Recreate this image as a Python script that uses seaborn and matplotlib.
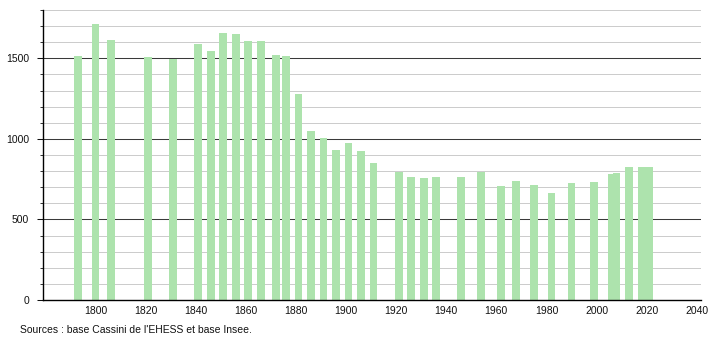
import numpy as np
import pandas as pd
import matplotlib
matplotlib.use("Agg")
import matplotlib.pyplot as plt
import seaborn as sns

years = [1793, 1800, 1806, 1821, 1831, 1841, 1846, 1851, 1856, 1861, 1866,
         1872, 1876, 1881, 1886, 1891, 1896, 1901, 1906, 1911, 1921, 1926,
         1931, 1936, 1946, 1954, 1962, 1968, 1975, 1982, 1990, 1999, 2006,
         2008, 2013, 2018, 2021]
population = [1512, 1711, 1612, 1510, 1498, 1587, 1543, 1655, 1649, 1605, 1605,
              1523, 1512, 1276, 1048, 1007, 933, 975, 925, 850, 795, 765,
              757, 765, 765, 795, 709, 740, 716, 666, 726, 734, 780,
              787, 828, 825, 823]
x_ticks = [1800, 1820, 1840, 1860, 1880, 1900, 1920, 1940, 1960, 1980, 2000, 2020, 2040]
y_ticks = [0, 500, 1000, 1500]
source_text = "Sources : base Cassini de l'EHESS et base Insee."

sns.set_theme(style="white")
plt.rcParams['font.family'] = ['Liberation Sans', 'DejaVu Sans']

fig = plt.figure(figsize=(7.1, 3.4), dpi=100)
ax = fig.add_axes([43 / 710, 1 - 300 / 340, (700.7 - 43) / 710, 290 / 340])

df = pd.DataFrame({"year": years, "pop": population})
min_gap = np.min(np.diff(np.unique(years)))
bar_years = 3.1
sns.barplot(data=df, x="year", y="pop", native_scale=True, ax=ax,
            width=bar_years / min_gap, color="#ade3ad", saturation=1,
            edgecolor="none", linewidth=0, zorder=3)

ax.set_xlim(1779, 2041.6)
ax.set_ylim(0, 1800)

# gridlines
for v in range(100, 1801, 100):
    if v % 500 == 0:
        ax.axhline(v, color="#3a3a3a", lw=0.75, zorder=1)
    else:
        ax.axhline(v, color="#cccccc", lw=0.72, zorder=1)

ax.set_xticks(x_ticks)
ax.set_xticklabels([str(t) for t in x_ticks])
ax.set_yticks(y_ticks)
ax.set_yticklabels([str(t) for t in y_ticks])
ax.set_yticks(list(range(0, 1801, 100)), minor=True)
ax.tick_params(axis="x", length=0, pad=4, labelsize=7.5, colors="#111111")
ax.tick_params(axis="y", which="major", length=4, width=0.75, pad=6,
               labelsize=7.5, colors="#111111", left=True)
ax.tick_params(axis="y", which="minor", length=2, width=0.6, left=True, color="#111111")
ax.set_xlabel("")
ax.set_ylabel("")

for s in ["top", "right"]:
    ax.spines[s].set_visible(False)
for s in ["left", "bottom"]:
    ax.spines[s].set_visible(True)
    ax.spines[s].set_color("#000000")
    ax.spines[s].set_linewidth(1.0)
    ax.spines[s].set_zorder(4)

fig.text(20 / 710, 1 - 330 / 340, source_text, fontsize=7.5, color="#111111",
         va="center", ha="left")

fig.savefig("out.png", dpi=100)
